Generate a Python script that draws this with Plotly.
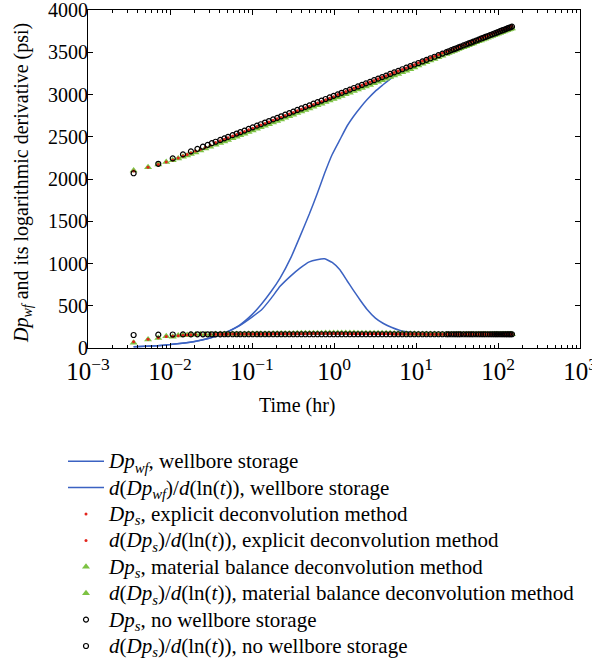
import plotly.graph_objects as go

# ---------------- data ----------------
# Wellbore-storage curves (blue lines)
T_WF = [0.0036, 0.005, 0.007, 0.01, 0.015, 0.02, 0.03, 0.04, 0.05, 0.07, 0.1, 0.13,
        0.17, 0.22, 0.3, 0.385, 0.5, 0.62, 0.77, 0.95, 1.18, 1.45, 1.71, 2.1, 2.52,
        3.2, 3.96, 5.0, 6.4, 8.0, 10.3, 13.5, 20, 30, 50, 80, 150]
DP_WF = [14, 20, 28, 40, 59, 78, 116, 153, 192, 268, 395, 518,
         665, 827, 1075, 1321, 1585, 1820, 2070, 2290, 2465, 2630, 2734, 2846, 2937,
         3040, 3115, 3195, 3262, 3312, 3358, 3403, 3470, 3540, 3625, 3703, 3805]
DDP_WF = [14, 20, 28, 40, 59, 78, 115, 152, 190, 262, 366, 449,
          584, 730, 857, 946, 1020, 1045, 1055, 1012, 925, 793, 688, 562, 459,
          354, 293, 245, 207, 189, 178, 171, 167, 165, 164, 163, 163]

# sampling times of the deconvolved series
T_EARLY_NWS = [0.0036, 0.0072, 0.0108, 0.0144, 0.018, 0.0216, 0.0252, 0.0288, 0.0324]
T_EARLY_DEC = [0.0036, 0.0054, 0.0072, 0.009, 0.0108, 0.0126, 0.0144, 0.0162, 0.018,
               0.0205, 0.0235, 0.027, 0.031]
T_MID = [0.036, 0.041, 0.046, 0.051, 0.058, 0.065, 0.072, 0.081, 0.091, 0.102,
         0.115, 0.128, 0.144, 0.161, 0.181, 0.203, 0.227, 0.254, 0.285, 0.319,
         0.357, 0.40, 0.448, 0.502, 0.562, 0.63, 0.705, 0.79, 0.885, 0.99,
         1.11, 1.24, 1.39, 1.56, 1.75, 1.96, 2.19, 2.45, 2.75, 3.08,
         3.45, 3.86, 4.32, 4.84, 5.42, 6.07, 6.8, 7.62, 8.53, 9.55,
         10.7, 12, 13.4, 15, 16.8, 18.8, 21, 23.5,
         25, 27, 29, 31, 33, 35, 38, 41, 44, 47,
         50, 54, 58, 62, 66, 70, 75, 80, 85, 90,
         95, 100, 106, 112, 118, 124, 130, 136, 142, 148]

# no wellbore storage (black circles)
DP_NWS_EARLY = [2068, 2180, 2244, 2291, 2327, 2357, 2382, 2404, 2424]
DP_NWS_MID = [2441, 2462, 2481, 2498, 2519, 2538, 2554, 2573, 2593, 2611,
              2631, 2648, 2668, 2686, 2705, 2724, 2742, 2761, 2780, 2798,
              2817, 2835, 2853, 2872, 2891, 2909, 2928, 2947, 2965, 2984,
              3002, 3020, 3039, 3058, 3077, 3095, 3113, 3132, 3150, 3169,
              3188, 3206, 3224, 3243, 3262, 3280, 3299, 3318, 3336, 3355,
              3373, 3392, 3410, 3429, 3447, 3465, 3484, 3502,
              3512, 3525, 3536, 3547, 3558, 3567, 3581, 3593, 3605, 3615,
              3626, 3638, 3650, 3661, 3671, 3681, 3692, 3703, 3712, 3722,
              3731, 3739, 3749, 3758, 3766, 3774, 3782, 3790, 3796, 3803]
DDP_NWS_EARLY = [154, 158, 160, 161, 161, 162, 162, 162, 162]
DDP_NWS_MID = [162, 162, 163, 163, 163, 163, 163, 163, 163, 163,
               163, 163, 163, 163, 163, 163, 163, 163, 163, 163,
               163, 163, 163, 163, 163, 163, 163, 163, 163, 163,
               163, 163, 163, 163, 163, 163, 163, 163, 163, 163,
               163, 163, 163, 163, 163, 163, 163, 163, 163, 163,
               163, 163, 163, 163, 163, 163, 163, 163,
               163, 163, 163, 163, 163, 163, 163, 163, 163, 163,
               163, 163, 163, 163, 163, 163, 163, 163, 163, 163,
               163, 163, 163, 163, 163, 163, 163, 163, 163, 163]

# material balance deconvolution (green triangles)
DP_MB_EARLY = [2100, 2140, 2172, 2200, 2222, 2243, 2262, 2279, 2295, 2315, 2337, 2360, 2382]
DP_MB_MID = [2404, 2425, 2444, 2461, 2482, 2501, 2517, 2536, 2556, 2574,
             2594, 2611, 2631, 2649, 2668, 2687, 2705, 2724, 2743, 2761,
             2780, 2798, 2816, 2835, 2854, 2872, 2891, 2910, 2928, 2947,
             2965, 2983, 3002, 3021, 3040, 3058, 3076, 3095, 3113, 3132,
             3151, 3169, 3187, 3206, 3225, 3243, 3262, 3281, 3299, 3319,
             3344, 3364, 3383, 3402, 3421, 3440, 3459, 3478,
             3491, 3504, 3515, 3526, 3537, 3546, 3560, 3572, 3584, 3594,
             3605, 3617, 3629, 3640, 3650, 3660, 3671, 3682, 3691, 3701,
             3710, 3718, 3728, 3737, 3745, 3753, 3761, 3769, 3775, 3782]
DDP_MB_EARLY = [62, 100, 118, 138, 132, 148, 150, 155, 158, 160, 162, 163, 164]
DDP_MB_MID = [165, 165, 166, 166, 166, 167, 167, 167, 168, 168,
              169, 169, 170, 170, 171, 171, 172, 172, 173, 173,
              174, 174, 175, 175, 176, 176, 176, 177, 177, 177,
              177, 177, 177, 177, 177, 176, 176, 176, 176, 175,
              175, 175, 174, 174, 173, 172, 171, 170, 169, 168,
              167, 166, 166, 165, 165, 164, 164, 164,
              164, 164, 164, 164, 164, 164, 163, 163, 163, 163,
              163, 163, 163, 163, 163, 163, 163, 163, 163, 163,
              163, 163, 163, 163, 163, 163, 163, 163, 163, 163]

# explicit deconvolution (red dots)
DP_EX_EARLY = [2095, 2138, 2172, 2200, 2226, 2250, 2272, 2290, 2308, 2330, 2353, 2377, 2399]
DP_EX_MID = [2431, 2452, 2471, 2488, 2509, 2528, 2544, 2563, 2583, 2601,
             2621, 2638, 2658, 2676, 2695, 2714, 2732, 2751, 2770, 2788,
             2807, 2825, 2843, 2862, 2881, 2899, 2918, 2937, 2955, 2974,
             2999, 3017, 3036, 3055, 3074, 3092, 3110, 3129, 3147, 3166,
             3185, 3203, 3221, 3240, 3259, 3277, 3296, 3315, 3333, 3352,
             3376, 3396, 3415, 3434, 3452, 3471, 3490, 3508,
             3518, 3531, 3542, 3553, 3564, 3573, 3587, 3599, 3611, 3621,
             3632, 3644, 3656, 3667, 3677, 3687, 3698, 3709, 3718, 3728,
             3737, 3745, 3755, 3764, 3772, 3780, 3788, 3797, 3804, 3811]
DDP_EX_EARLY = [75, 105, 122, 135, 138, 146, 150, 154, 157, 159, 161, 162, 163]
DDP_EX_MID = [164, 164, 164, 165, 165, 165, 165, 166, 166, 166,
              166, 167, 167, 167, 168, 168, 168, 169, 169, 169,
              170, 170, 170, 171, 171, 171, 171, 171, 171, 171,
              171, 171, 171, 170, 170, 170, 170, 170, 169, 169,
              169, 168, 168, 168, 167, 167, 166, 166, 166, 165,
              165, 165, 164, 164, 164, 164, 163, 163,
              163, 163, 163, 163, 163, 163, 163, 163, 163, 163,
              163, 163, 163, 163, 163, 163, 163, 163, 163, 163,
              163, 163, 163, 163, 163, 163, 163, 163, 163, 163]

Y_TICKS = [0, 500, 1000, 1500, 2000, 2500, 3000, 3500, 4000]
X_ALIAS = {"1": "10<sup>0</sup>", "10": "10<sup>1</sup>"}

NAMES = [
    "<i>Dp</i><sub><i>wf</i></sub>, wellbore storage",
    "<i>d</i>(<i>Dp</i><sub><i>wf</i></sub>)/<i>d</i>(ln(<i>t</i>)), wellbore storage",
    "<i>Dp</i><sub><i>s</i></sub>, explicit deconvolution method",
    "<i>d</i>(<i>Dp</i><sub><i>s</i></sub>)/<i>d</i>(ln(<i>t</i>)), explicit deconvolution method",
    "<i>Dp</i><sub><i>s</i></sub>, material balance deconvolution method",
    "<i>d</i>(<i>Dp</i><sub><i>s</i></sub>)/<i>d</i>(ln(<i>t</i>)), material balance deconvolution method",
    "<i>Dp</i><sub><i>s</i></sub>, no wellbore storage",
    "<i>d</i>(<i>Dp</i><sub><i>s</i></sub>)/<i>d</i>(ln(<i>t</i>)), no wellbore storage",
]
Y_TITLE = "<i>Dp</i><sub><i>wf</i></sub> and its logarithmic derivative (psi)"
X_TITLE = "Time (hr)"

# ---------------- styles ----------------
FONT = "Liberation Serif"
BLUE = "#3b62c2"
RED = "#e3241c"
GREEN = "#7cc242"


def big(s):
    return '<span style="font-size:21px">' + s + '</span>'


T_NWS = T_EARLY_NWS + T_MID
T_DEC = T_EARLY_DEC + T_MID

line_style = dict(color=BLUE, width=1.5, shape="spline", smoothing=0.4)

fig = go.Figure()
fig.add_trace(go.Scatter(x=T_WF, y=DP_WF, mode="lines", name=big(NAMES[0]), legendrank=1, line=line_style))
fig.add_trace(go.Scatter(x=T_WF, y=DDP_WF, mode="lines", name=big(NAMES[1]), legendrank=2, line=line_style))
fig.add_trace(go.Scatter(x=T_DEC, y=DP_MB_EARLY + DP_MB_MID, mode="markers", name=big(NAMES[4]), legendrank=5,
                         marker=dict(symbol="triangle-up", size=7, color=GREEN, line=dict(width=0))))
fig.add_trace(go.Scatter(x=T_DEC, y=DDP_MB_EARLY + DDP_MB_MID, mode="markers", name=big(NAMES[5]), legendrank=6,
                         marker=dict(symbol="triangle-up", size=7, color=GREEN, line=dict(width=0))))
fig.add_trace(go.Scatter(x=T_DEC, y=DP_EX_EARLY + DP_EX_MID, mode="markers", name=big(NAMES[2]), legendrank=3,
                         marker=dict(symbol="circle", size=3, color=RED, line=dict(width=0))))
fig.add_trace(go.Scatter(x=T_DEC, y=DDP_EX_EARLY + DDP_EX_MID, mode="markers", name=big(NAMES[3]), legendrank=4,
                         marker=dict(symbol="circle", size=3, color=RED, line=dict(width=0))))
fig.add_trace(go.Scatter(x=T_NWS, y=DP_NWS_EARLY + DP_NWS_MID, mode="markers", name=big(NAMES[6]), legendrank=7,
                         marker=dict(symbol="circle-open", size=5, color="black", line=dict(width=1.2))))
fig.add_trace(go.Scatter(x=T_NWS, y=DDP_NWS_EARLY + DDP_NWS_MID, mode="markers", name=big(NAMES[7]), legendrank=8,
                         marker=dict(symbol="circle-open", size=5, color="black", line=dict(width=1.2))))

fig.update_layout(
    width=592, height=663,
    margin=dict(l=88, r=12, t=10, b=315, autoexpand=False),
    paper_bgcolor="white", plot_bgcolor="white",
    font=dict(family=FONT, size=20, color="black"),
    showlegend=True,
    legend=dict(xref="container", yref="container", x=63 / 592, y=1 - 443 / 663,
                xanchor="left", yanchor="top", font=dict(family=FONT, size=18, color="black"),
                itemwidth=36, bgcolor="rgba(0,0,0,0)", borderwidth=0, tracegroupgap=0),
    xaxis=dict(type="log", range=[-3, 3], dtick=1, exponentformat="power", labelalias=X_ALIAS,
               showgrid=False, zeroline=False, showline=True, linecolor="black", linewidth=1,
               mirror="ticks", ticks="inside", ticklen=5, tickcolor="black",
               ticklabeloverflow="allow", ticklabelstandoff=2,
               minor=dict(dtick="D1", ticks="inside", ticklen=3, tickcolor="black", showgrid=False),
               tickfont=dict(family=FONT, size=20)),
    yaxis=dict(range=[0, 4000], tickvals=Y_TICKS, showgrid=False, zeroline=False,
               showline=True, linecolor="black", linewidth=1, mirror="ticks",
               ticks="inside", ticklen=5, tickcolor="black", ticklabeloverflow="allow",
               ticklabelstandoff=-5,
               tickfont=dict(family=FONT, size=20)),
    annotations=[
        dict(text=X_TITLE, xref="paper", yref="paper", x=(297 - 88) / 492,
             y=-(405 - 348) / 338, xanchor="center", yanchor="middle", showarrow=False,
             font=dict(family=FONT, size=20)),
        dict(text=Y_TITLE, xref="paper", yref="paper", x=-(88 - 22) / 492,
             y=(348 - 183) / 338, xanchor="center", yanchor="middle", showarrow=False,
             textangle=-90, font=dict(family=FONT, size=20)),
    ],
)

fig.write_html("out.html")
